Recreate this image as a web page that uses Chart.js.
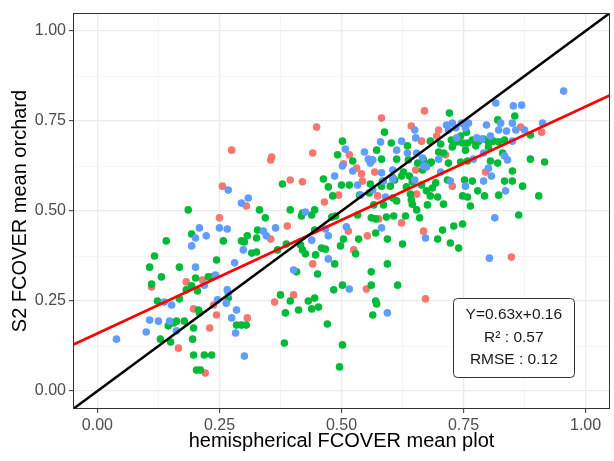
<!DOCTYPE html>
<html lang="en">
<head>
  <meta charset="UTF-8">
  <title>S2 FCOVER vs hemispherical FCOVER</title>
  <script src="https://cdn.jsdelivr.net/npm/chart.js"></script>
  <style>
    html, body {
      margin: 0;
      padding: 0;
      background: #fff;
    }
    #wrap {
      width: 614px;
      height: 461px;
      position: relative;
    }
  </style>
</head>
<body>
<div id="wrap"><canvas id="chart"></canvas></div>

<script>
// points, one pair of arrays per colour group
const redX = [0.275,0.256,0.305,0.670,0.582,0.449,0.643,0.664,0.357,0.355,0.441,0.516,0.504,0.531,0.541,0.568,0.652,0.395,0.420,0.543,0.494,0.574,0.654,0.465,0.699,0.695,0.867,0.910,0.713,0.795,0.727,0.250,0.111,0.182,0.215,0.197,0.238,0.244,0.307,0.230,0.166,0.221,0.355,0.389,0.514,0.441,0.525,0.553,0.576,0.623,0.668,0.551,0.402,0.363,0.672,0.848];
const redY = [0.669,0.569,0.514,0.778,0.758,0.733,0.736,0.694,0.650,0.642,0.661,0.656,0.631,0.619,0.603,0.608,0.614,0.586,0.581,0.583,0.544,0.542,0.547,0.525,0.725,0.708,0.733,0.719,0.656,0.608,0.569,0.481,0.289,0.303,0.308,0.228,0.239,0.211,0.203,0.175,0.119,0.050,0.422,0.458,0.444,0.353,0.392,0.431,0.478,0.467,0.444,0.283,0.267,0.247,0.256,0.372];

const greenX = [0.186,0.588,0.682,0.502,0.602,0.492,0.572,0.582,0.613,0.637,0.668,0.523,0.605,0.623,0.639,0.682,0.463,0.379,0.473,0.500,0.516,0.559,0.584,0.482,0.557,0.582,0.605,0.613,0.641,0.664,0.674,0.682,0.332,0.395,0.420,0.445,0.566,0.586,0.645,0.676,0.654,0.635,0.656,0.666,0.627,0.609,0.600,0.633,0.645,0.643,0.537,
  0.721,0.855,0.820,0.887,0.756,0.725,0.736,0.744,0.748,0.758,0.768,0.781,0.791,0.801,0.811,0.822,0.834,0.703,0.727,0.754,0.775,0.801,0.830,0.805,0.820,0.744,0.758,0.709,0.699,0.684,0.719,0.887,0.916,0.850,0.717,0.693,0.752,0.768,0.834,0.850,0.871,0.779,0.748,0.758,0.793,0.822,0.904,0.686,0.697,0.764,0.709,
  0.193,0.141,0.258,0.295,0.307,0.301,0.316,0.117,0.107,0.168,0.244,0.131,0.111,0.201,0.227,0.236,0.182,0.193,0.205,0.268,0.123,0.168,0.207,0.209,0.285,0.295,0.305,0.145,0.156,0.162,0.178,0.197,0.129,0.150,0.195,0.197,0.219,0.234,0.203,0.211,
  0.344,0.328,0.326,0.418,0.439,0.445,0.480,0.488,0.504,0.387,0.369,0.416,0.420,0.459,0.467,0.498,0.529,0.326,0.426,0.447,0.486,0.408,0.451,0.535,0.533,0.570,0.561,0.570,0.594,0.592,0.607,0.625,0.631,0.660,0.594,0.561,0.561,0.615,0.502,0.484,0.375,0.395,0.385,0.412,0.432,0.445,0.439,0.453,0.570,0.572,0.564,0.471,0.383,0.502,0.496,
  0.707,0.730,0.748,0.697,0.723,0.740,0.863];
const greenY = [0.503,0.719,0.694,0.694,0.689,0.656,0.669,0.644,0.644,0.642,0.642,0.639,0.592,0.597,0.597,0.633,0.589,0.575,0.567,0.572,0.572,0.575,0.583,0.542,0.550,0.569,0.536,0.528,0.547,0.572,0.556,0.542,0.503,0.503,0.494,0.503,0.517,0.517,0.519,0.517,0.503,0.681,0.633,0.614,0.608,0.586,0.569,0.567,0.581,0.531,0.544,
  0.772,0.764,0.753,0.711,0.719,0.697,0.692,0.708,0.689,0.689,0.697,0.694,0.700,0.692,0.694,0.692,0.697,0.686,0.678,0.669,0.681,0.678,0.661,0.639,0.633,0.636,0.639,0.661,0.664,0.636,0.633,0.644,0.636,0.611,0.586,0.578,0.586,0.583,0.583,0.583,0.569,0.556,0.542,0.539,0.542,0.544,0.542,0.564,0.539,0.514,0.519,
  0.436,0.417,0.417,0.417,0.431,0.414,0.383,0.375,0.344,0.344,0.364,0.317,0.297,0.314,0.317,0.317,0.281,0.292,0.278,0.258,0.250,0.256,0.225,0.217,0.183,0.183,0.183,0.181,0.189,0.194,0.194,0.175,0.144,0.136,0.144,0.100,0.100,0.100,0.058,0.058,
  0.481,0.447,0.425,0.486,0.489,0.447,0.483,0.486,0.422,0.408,0.392,0.406,0.392,0.397,0.394,0.403,0.381,0.386,0.381,0.378,0.353,0.331,0.325,0.422,0.489,0.439,0.481,0.478,0.422,0.483,0.486,0.408,0.486,0.481,0.353,0.331,0.294,0.294,0.294,0.281,0.267,0.250,0.217,0.225,0.250,0.258,0.228,0.233,0.250,0.242,0.211,0.186,0.133,0.128,0.067,
  0.447,0.458,0.464,0.422,0.411,0.397,0.489];

const blueX = [0.268,0.295,0.309,0.650,0.652,0.580,0.623,0.508,0.547,0.555,0.564,0.559,0.635,0.654,0.502,0.523,0.582,0.605,0.668,0.486,0.533,0.605,0.539,0.590,0.426,0.955,0.816,0.852,0.869,0.715,0.727,0.734,0.746,0.760,0.754,0.797,0.826,0.822,0.838,0.850,0.857,0.875,0.912,0.736,0.777,0.787,0.805,0.850,0.791,0.834,0.840,0.770,0.699,0.703,0.801,0.807,0.723,0.754,0.791,0.836,0.209,0.250,0.266,0.201,0.223,0.193,0.299,0.201,0.281,0.219,0.242,0.266,0.268,0.246,0.264,0.137,0.152,0.285,0.275,0.107,0.125,0.148,0.162,0.100,0.283,0.039,0.301,0.340,0.346,0.365,0.467,0.473,0.510,0.439,0.473,0.402,0.582,0.672,0.516,0.594,0.814,0.803,0.674,0.719,0.613,0.666,0.586,0.564,0.650];
const blueY = [0.558,0.522,0.536,0.725,0.703,0.692,0.694,0.672,0.664,0.644,0.642,0.633,0.661,0.661,0.625,0.611,0.606,0.614,0.625,0.597,0.572,0.589,0.544,0.539,0.497,0.833,0.800,0.792,0.794,0.739,0.744,0.731,0.744,0.744,0.731,0.739,0.744,0.725,0.722,0.744,0.725,0.725,0.744,0.703,0.703,0.700,0.708,0.694,0.661,0.653,0.642,0.644,0.644,0.608,0.619,0.597,0.583,0.569,0.583,0.556,0.453,0.453,0.450,0.425,0.431,0.403,0.392,0.344,0.356,0.294,0.322,0.281,0.272,0.253,0.244,0.247,0.239,0.225,0.203,0.197,0.194,0.194,0.167,0.164,0.161,0.144,0.097,0.444,0.431,0.453,0.450,0.431,0.456,0.419,0.367,0.336,0.453,0.425,0.283,0.217,0.481,0.369,0.622,0.725,0.669,0.647,0.583,0.558,0.586];

// regression line and 1:1 line
const fitSlope = 0.63;
const fitIntercept = 0.16;
const axisRange = [-0.05, 1.05];

const gridVals = [0, 0.125, 0.25, 0.375, 0.5, 0.625, 0.75, 0.875, 1];
const majorVals = [0, 0.25, 0.5, 0.75, 1];

const statLines = ['Y=0.63x+0.16', 'R\u00b2 : 0.57', 'RMSE : 0.12'];
const statPos = [0.853, 0.149];

const isMajor = v => majorVals.some(m => Math.abs(m - v) < 1e-6);

function pts(xs, ys) {
  return xs.map((x, i) => ({ x: x, y: ys[i] }));
}

Chart.defaults.font.family = "'Liberation Sans', Arial, sans-serif";
Chart.defaults.color = '#4d4d4d';

const frameAndLabel = {
  id: 'frameAndLabel',
  afterDatasetsDraw(chart) {
    const { ctx, chartArea: a, scales } = chart;
    const cx = scales.x.getPixelForValue(statPos[0]);
    const cy = scales.y.getPixelForValue(statPos[1]);
    const w = 121, h = 79;
    ctx.save();
    ctx.beginPath();
    ctx.roundRect(Math.round(cx - w / 2) + 0.5, Math.round(cy - h / 2) + 0.5, w, h, 4);
    ctx.fillStyle = '#fff';
    ctx.fill();
    ctx.lineWidth = 1;
    ctx.strokeStyle = '#333';
    ctx.stroke();
    ctx.fillStyle = '#1a1a1a';
    ctx.font = "15.5px 'Liberation Sans', Arial, sans-serif";
    ctx.textAlign = 'center';
    ctx.textBaseline = 'middle';
    statLines.forEach((t, i) => ctx.fillText(t, cx, cy + (i - 1) * 22.5));

    // panel border
    ctx.strokeStyle = '#333';
    ctx.strokeRect(a.left + 0.5, a.top + 0.5, a.width - 1, a.height - 1);
    ctx.restore();
  }
};

function axisOpts(title, fit, titlePad) {
  return {
    type: 'linear',
    min: axisRange[0],
    max: axisRange[1],
    afterBuildTicks: scale => { scale.ticks = gridVals.map(v => ({ value: v })); },
    afterFit: fit,
    ticks: {
      autoSkip: false,
      maxRotation: 0,
      padding: 3,
      color: '#4d4d4d',
      font: { size: 16 },
      callback: v => isMajor(v) ? v.toFixed(2) : ''
    },
    grid: {
      color: c => isMajor(c.tick.value) ? '#ebebeb' : '#f4f4f4',
      lineWidth: c => isMajor(c.tick.value) ? 1.3 : 0.8,
      drawTicks: true,
      tickLength: 4,
      tickWidth: 1,
      tickColor: c => isMajor(c.tick.value) ? '#333' : 'rgba(0,0,0,0)'
    },
    border: { display: false },
    title: {
      display: true,
      text: title,
      color: '#000',
      font: { size: 20 },
      padding: titlePad
    }
  };
}

new Chart(document.getElementById('chart'), {
  type: 'scatter',
  data: {
    datasets: [
      {
        type: 'line',
        data: axisRange.map(v => ({ x: v, y: v })),
        borderColor: '#000',
        borderWidth: 2.6,
        pointRadius: 0,
        fill: false
      },
      {
        type: 'line',
        data: axisRange.map(v => ({ x: v, y: fitSlope * v + fitIntercept })),
        borderColor: '#ff0000',
        borderWidth: 2.6,
        pointRadius: 0,
        fill: false
      },
      {
        data: pts(blueX, blueY),
        backgroundColor: '#619CFF',
        borderWidth: 0,
        pointRadius: 3.8
      },
      {
        data: pts(greenX, greenY),
        backgroundColor: '#00BA38',
        borderWidth: 0,
        pointRadius: 3.8
      },
      {
        data: pts(redX, redY),
        backgroundColor: '#F8766D',
        borderWidth: 0,
        pointRadius: 3.8
      }
    ]
  },
  options: {
    responsive: true,
    maintainAspectRatio: false,
    animation: false,
    devicePixelRatio: 1,
    layout: { padding: { top: 13, right: 3, left: 0, bottom: 0 } },
    plugins: {
      legend: { display: false },
      tooltip: { enabled: false }
    },
    scales: {
      x: axisOpts('hemispherical FCOVER mean plot', s => { s.height = 52; }, { top: 0, bottom: 8 }),
      y: axisOpts('S2 FCOVER mean orchard', s => { s.width = 73; }, { top: 8, bottom: 0 })
    }
  },
  plugins: [frameAndLabel]
});
</script>
</body>
</html>
